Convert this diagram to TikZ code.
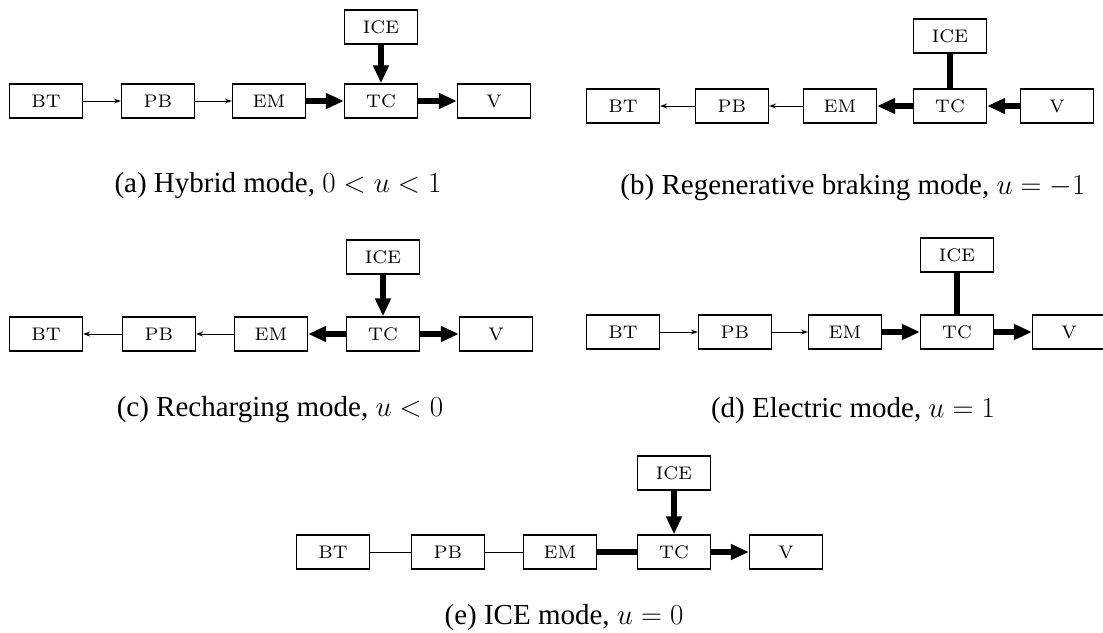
\RequirePackage{fix-cm}
\documentclass[tikz,border=0pt]{standalone}
\usepackage{graphicx}
\usepackage{fontspec}
\newfontfamily\capfont{Liberation Serif}
\usetikzlibrary{arrows.meta,positioning}

\newcommand{\lbl}[1]{\scalebox{2.6}{#1}}

\tikzset{
  blk/.style={draw,line width=1.3pt,minimum width=73pt,minimum height=34pt,inner sep=0pt,font=\fontsize{7}{8}\selectfont},
  lo/.style={line width=1pt,-{Stealth[length=7pt,width=5pt]}},
  hi/.style={line width=6pt,-{Triangle[length=18pt,width=15pt]}},
  lolink/.style={line width=1pt},
  hilink/.style={line width=6pt},
  subcap/.style={anchor=base,font=\capfont\fontsize{29}{34}\selectfont}
}

\begin{document}
\begin{tikzpicture}[x=1pt,y=-1pt]
\useasboundingbox (0,0) rectangle (1103,632);
% (a) hybrid
\node[blk] (btA) at (46,101) {\lbl{BT}};
\node[blk] (pbA) at (158,101) {\lbl{PB}};
\node[blk] (emA) at (269,101) {\lbl{EM}};
\node[blk] (tcA) at (381,101) {\lbl{TC}};
\node[blk] (vA) at (494,101) {\lbl{V}};
\node[blk] (iceA) at (381,27) {\lbl{ICE}};
\draw[lo] (btA) -- (pbA);
\draw[lo] (pbA) -- (emA);
\draw[hi] (emA) -- (tcA);
\draw[hi] (tcA) -- (vA);
\draw[hi] (iceA) -- (tcA);
\node[subcap] (capA) at (278,192) {(a) Hybrid mode, $0<u<1$};
% (b) regenerative braking
\node[blk] (btB) at (623,106) {\lbl{BT}};
\node[blk] (pbB) at (732,106) {\lbl{PB}};
\node[blk] (emB) at (840,106) {\lbl{EM}};
\node[blk] (tcB) at (950,106) {\lbl{TC}};
\node[blk] (vB) at (1057,106) {\lbl{V}};
\node[blk] (iceB) at (950,36) {\lbl{ICE}};
\draw[lo] (pbB) -- (btB);
\draw[lo] (emB) -- (pbB);
\draw[hi] (tcB) -- (emB);
\draw[hi] (vB) -- (tcB);
\draw[hilink] (iceB) -- (tcB);
\node[subcap] (capB) at (853,194) {(b) Regenerative braking mode, $u=-1$};
% (c) recharging
\node[blk] (btC) at (46,334) {\lbl{BT}};
\node[blk] (pbC) at (159,334) {\lbl{PB}};
\node[blk] (emC) at (271,334) {\lbl{EM}};
\node[blk] (tcC) at (383,334) {\lbl{TC}};
\node[blk] (vC) at (496,334) {\lbl{V}};
\node[blk] (iceC) at (383,257) {\lbl{ICE}};
\draw[lo] (pbC) -- (btC);
\draw[lo] (emC) -- (pbC);
\draw[hi] (tcC) -- (emC);
\draw[hi] (tcC) -- (vC);
\draw[hi] (iceC) -- (tcC);
\node[subcap] (capC) at (280,416) {(c) Recharging mode, $u<0$};
% (d) electric
\node[blk] (btD) at (623,332) {\lbl{BT}};
\node[blk] (pbD) at (735,332) {\lbl{PB}};
\node[blk] (emD) at (845,332) {\lbl{EM}};
\node[blk] (tcD) at (957,332) {\lbl{TC}};
\node[blk] (vD) at (1069,332) {\lbl{V}};
\node[blk] (iceD) at (957,255) {\lbl{ICE}};
\draw[lo] (btD) -- (pbD);
\draw[lo] (pbD) -- (emD);
\draw[hi] (emD) -- (tcD);
\draw[hi] (tcD) -- (vD);
\draw[hilink] (iceD) -- (tcD);
\node[subcap] (capD) at (853,417) {(d) Electric mode, $u=1$};
% (e) ICE only
\node[blk] (btE) at (333,552) {\lbl{BT}};
\node[blk] (pbE) at (448,552) {\lbl{PB}};
\node[blk] (emE) at (560,552) {\lbl{EM}};
\node[blk] (tcE) at (674,552) {\lbl{TC}};
\node[blk] (vE) at (786,552) {\lbl{V}};
\node[blk] (iceE) at (674,473) {\lbl{ICE}};
\draw[lolink] (btE) -- (pbE);
\draw[lolink] (pbE) -- (emE);
\draw[hilink] (emE) -- (tcE);
\draw[hi] (tcE) -- (vE);
\draw[hi] (iceE) -- (tcE);
\node[subcap] (capE) at (564,624) {(e) ICE mode, $u=0$};
\end{tikzpicture}
\end{document}
